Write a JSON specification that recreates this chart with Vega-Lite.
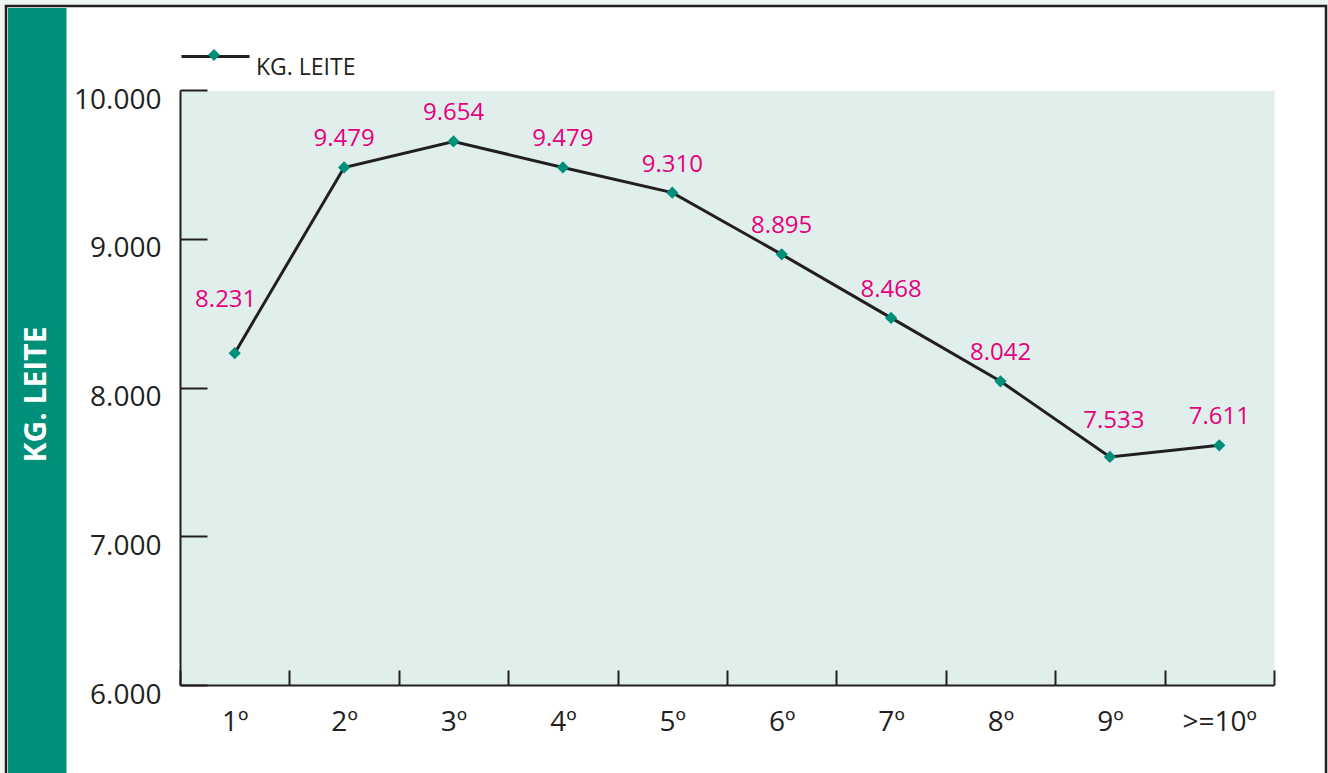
{
  "$schema": "https://vega.github.io/schema/vega-lite/v6.json",
  "autosize": {"type": "none"},
  "width": 1320,
  "height": 772,
  "padding": {"left": 6, "top": 6, "right": 2, "bottom": 0},
  "background": "#eef6f4",
  "config": {
    "view": {"fill": "white", "stroke": "#231f20", "strokeWidth": 2.5},
    "locale": {"number": {"decimal": ",", "thousands": ".", "grouping": [3], "currency": ["", ""]}},
    "font": "Open Sans"
  },
  "layer": [
    {
      "data": {"values": [{"k": 0}]},
      "mark": {"type": "point", "opacity": 0},
      "encoding": {
        "y": {
          "datum": 0,
          "type": "quantitative",
          "scale": {"domain": [0, 1], "range": [775, 1.5], "nice": false, "zero": false},
          "axis": {
            "orient": "left",
            "offset": -30.75,
            "domain": true,
            "domainColor": "#00907a",
            "domainWidth": 58.5,
            "ticks": false,
            "labels": false,
            "grid": false,
            "title": "KG. LEITE",
            "titleColor": "white",
            "titleFont": "Open Sans",
            "titleFontSize": 30,
            "titleFontWeight": "bold",
            "titleAngle": 270,
            "titleX": 0,
            "titleY": 388,
            "titleAlign": "center",
            "titleBaseline": "middle",
            "zindex": 0
          }
        }
      }
    },
    {
      "data": {
        "values": [
          {"cat": "1º", "kg": 8231},
          {"cat": "2º", "kg": 9479},
          {"cat": "3º", "kg": 9654},
          {"cat": "4º", "kg": 9479},
          {"cat": "5º", "kg": 9310},
          {"cat": "6º", "kg": 8895},
          {"cat": "7º", "kg": 8468},
          {"cat": "8º", "kg": 8042},
          {"cat": "9º", "kg": 7533},
          {"cat": ">=10º", "kg": 7611}
        ]
      },
      "encoding": {
        "x": {
          "field": "cat",
          "type": "nominal",
          "sort": null,
          "scale": {"type": "band", "range": [174, 1268], "paddingInner": 0, "paddingOuter": 0},
          "axis": {
            "orient": "bottom",
            "offset": -93,
            "title": null,
            "labelAngle": 0,
            "labelFont": "Open Sans",
            "labelFontSize": 28,
            "labelColor": "#231f20",
            "labelPadding": 38,
            "tickBand": "extent",
            "tickSize": -15,
            "tickWidth": 2,
            "tickColor": "#231f20",
            "domainColor": "#231f20",
            "domainWidth": 2,
            "grid": false,
            "zindex": 1
          }
        }
      },
      "layer": [
        {
          "mark": {"type": "line", "color": "#231f20", "strokeWidth": 3},
          "encoding": {
            "y": {
              "field": "kg",
              "type": "quantitative",
              "scale": {"domain": [6000, 10000], "range": [679, 84], "nice": false, "zero": false},
              "axis": {
                "orient": "left",
                "offset": -174,
                "title": null,
                "values": [6000, 7000, 8000, 9000, 10000],
                "format": ",.0f",
                "labelFont": "Open Sans",
                "labelFontSize": 28,
                "labelColor": "#231f20",
                "labelPadding": 46,
                "labelOffset": 10,
                "tickSize": -27,
                "tickWidth": 2,
                "tickColor": "#231f20",
                "domainColor": "#231f20",
                "domainWidth": 2,
                "grid": false,
                "zindex": 1
              }
            },
            "stroke": {
              "datum": "KG. LEITE",
              "type": "nominal",
              "scale": {"range": ["#231f20"]},
              "legend": {
                "orient": "none",
                "legendX": 174,
                "legendY": 15,
                "title": null,
                "symbolType": "stroke",
                "symbolSize": 4624,
                "symbolStrokeWidth": 3,
                "labelFont": "Open Sans",
                "labelFontSize": 23,
                "labelColor": "#231f20",
                "labelOffset": 5,
                "labelBaseline": "top"
              }
            }
          }
        },
        {
          "mark": {"type": "point", "shape": "diamond", "filled": true, "size": 150, "opacity": 1, "strokeWidth": 0},
          "encoding": {
            "y": {"field": "kg", "type": "quantitative", "axis": null},
            "fill": {
              "datum": "Kg. leite",
              "type": "nominal",
              "scale": {"range": ["#00907a"]},
              "legend": {
                "orient": "none",
                "legendX": 202,
                "legendY": 43,
                "title": null,
                "symbolType": "diamond",
                "symbolSize": 144,
                "symbolStrokeWidth": 0,
                "labelExpr": "''"
              }
            }
          }
        },
        {
          "transform": [{"filter": "datum.cat !== '1º' && datum.cat !== '9º'"}],
          "mark": {"type": "text", "dy": -28, "baseline": "middle", "font": "Open Sans", "fontSize": 24, "color": "#e5007e"},
          "encoding": {
            "y": {
              "field": "kg",
              "type": "quantitative",
              "axis": {
                "orient": "left",
                "values": [8000],
                "domain": false,
                "ticks": false,
                "labels": false,
                "title": null,
                "grid": true,
                "gridColor": "#e0efeb",
                "gridWidth": 595,
                "gridOpacity": 1,
                "zindex": 0
              }
            },
            "text": {"field": "kg", "type": "quantitative", "format": ",.0f"}
          }
        },
        {
          "transform": [{"filter": "datum.cat === '1º'"}],
          "mark": {"type": "text", "dy": -53, "dx": -9, "baseline": "middle", "font": "Open Sans", "fontSize": 24, "color": "#e5007e"},
          "encoding": {
            "y": {"field": "kg", "type": "quantitative", "axis": null},
            "text": {"field": "kg", "type": "quantitative", "format": ",.0f"}
          }
        },
        {
          "transform": [{"filter": "datum.cat === '9º'"}],
          "mark": {"type": "text", "dy": -36, "dx": 4, "baseline": "middle", "font": "Open Sans", "fontSize": 24, "color": "#e5007e"},
          "encoding": {
            "y": {"field": "kg", "type": "quantitative", "axis": null},
            "text": {"field": "kg", "type": "quantitative", "format": ",.0f"}
          }
        }
      ],
      "resolve": {"axis": {"y": "independent"}}
    }
  ],
  "resolve": {"scale": {"y": "independent"}}
}
